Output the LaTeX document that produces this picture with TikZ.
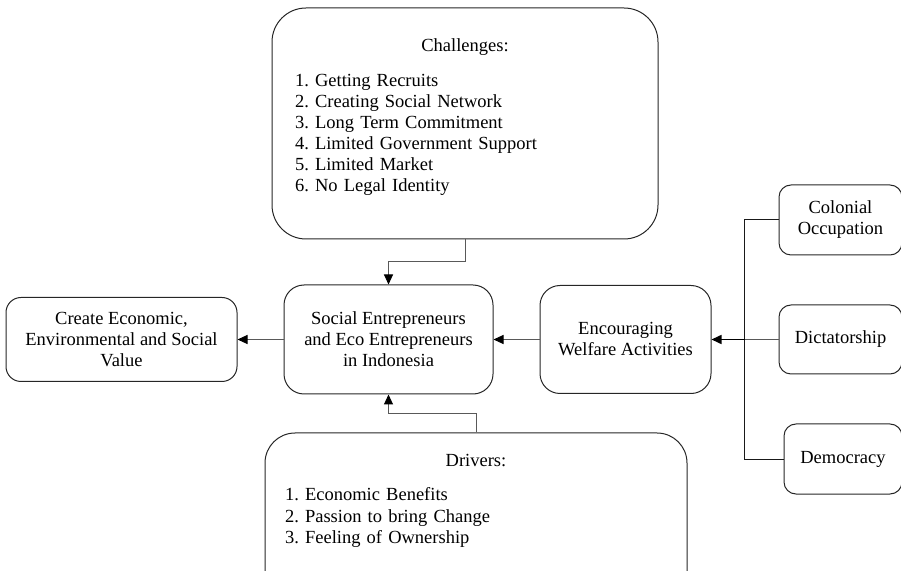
\documentclass[tikz,border=0pt]{standalone}
\usepackage{fontspec}
\setmainfont{Liberation Serif}
\usetikzlibrary{arrows.meta,positioning}
\begin{document}
\begin{tikzpicture}[x=1pt,y=1pt]
        \tikzset{rblock/.style={draw=black!85, line width=1pt, shape=rectangle, rounded corners=#1, align=center, inner sep=0pt, font=\fontsize{18.5}{21}\selectfont\frenchspacing},
        rblock/.default=20pt,
        list/.style={rblock=#1, align=left},
        link/.style={draw=black!65, line width=1pt},
        arr/.style={link, -{Triangle[length=10pt,width=9pt,color=black]}}
        }
        \useasboundingbox (0,0) rectangle (901,570);
        \node [rblock, minimum width=209pt, minimum height=109pt] (soc) at (388.5,230.5) {Social Entrepreneurs\\and Eco Entrepreneurs\\in Indonesia};
        \node [rblock, minimum width=171pt, minimum height=108pt, right=46pt of soc] (welfare) {Encouraging\\Welfare Activities};
        \node [rblock=15pt, minimum width=231pt, minimum height=84pt, left=46pt of soc] (value) {Create Economic,\\Environmental and Social\\Value};
        \node [rblock=12pt, minimum width=123pt, minimum height=69pt, right=67pt of welfare] (dict) {Dictatorship};
        \node [rblock=12pt, minimum width=123pt, minimum height=70pt, above=49pt of dict] (colonial) {Colonial\\Occupation};
        \node [rblock=12pt, minimum width=118pt, minimum height=70pt, below=49pt of dict, xshift=2.5pt] (democ) {Democracy};
        \node [list=34pt, text width=340pt, inner xsep=23pt, minimum height=231pt, text height=13pt, text depth=156pt, above=45pt of soc, xshift=76.5pt] (chal) {\null\hfill Challenges:\hfill\null\\[14pt]
        1. Getting Recruits\\2. Creating Social Network\\3. Long Term Commitment\\4. Limited Government Support\\5. Limited Market\\6. No Legal Identity};
        \node [list=30pt, text width=382pt, inner xsep=20pt, inner ysep=21pt, text height=13pt, text depth=115pt, below=38pt of soc, xshift=87.5pt] (drivers) {\null\hfill Drivers:\hfill\null\\[13pt]
        1. Economic Benefits\\2. Passion to bring Change\\3. Feeling of Ownership};
        \coordinate [right=33pt of welfare.east] (trunk);

%% paths
        \path[arr] (soc) edge (value)
                   (welfare) edge (soc);
        \draw[arr] (chal.south) -- ++(0,-22) -| (soc.north);
        \draw[arr] (drivers.north) -- ++(0,19) -| (soc.south);
        \draw[link, draw=black!90] (colonial.west) -| (trunk) |- (democ.west);
        \draw[link] (dict.west) -- (trunk);
        \draw[arr, draw=black, line width=1.6pt] (trunk) -- (welfare.east);
    \end{tikzpicture}
\end{document}
